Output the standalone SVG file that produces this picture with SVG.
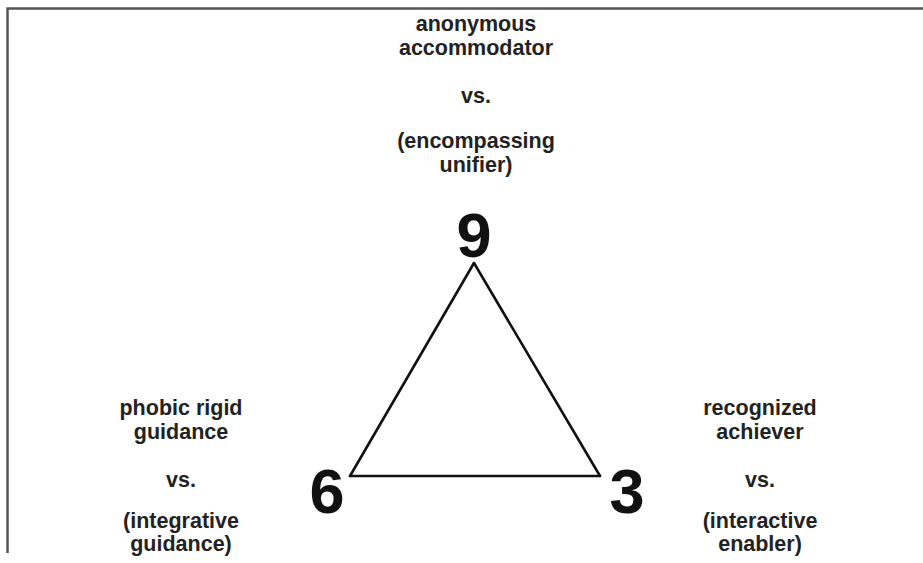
<svg xmlns="http://www.w3.org/2000/svg" width="923" height="563" viewBox="0 0 923 563">
<style>
.lbl{font-family:"Liberation Sans",Arial,sans-serif;font-weight:bold;font-size:21.5px;fill:#222;text-anchor:middle}
.num{font-family:"Liberation Sans",Arial,sans-serif;font-weight:bold;font-size:63px;fill:#111;text-anchor:middle}
.edge{stroke:#111;stroke-width:2.6;fill:none;stroke-linecap:round}
</style>
<rect width="923" height="563" fill="#fff"/>
<path d="M7.5,553 V8.5 H923" fill="none" stroke="#555" stroke-width="2.5"/>
<g id="connectors">
<line class="edge" x1="474" y1="263" x2="350" y2="476"/>
<line class="edge" x1="474" y1="263" x2="600" y2="476"/>
<line class="edge" x1="350" y1="476" x2="600" y2="476"/>
</g>
<g id="node-9">
<text class="lbl" x="476" y="31">anonymous</text>
<text class="lbl" x="476" y="55">accommodator</text>
<text class="lbl" x="476" y="103">vs.</text>
<text class="lbl" x="476" y="148">(encompassing</text>
<text class="lbl" x="476" y="172">unifier)</text>
<text class="num" x="474" y="257">9</text>
</g>
<g id="node-6">
<text class="lbl" x="181" y="415">phobic rigid</text>
<text class="lbl" x="181" y="439">guidance</text>
<text class="lbl" x="181" y="487">vs.</text>
<text class="lbl" x="181" y="528">(integrative</text>
<text class="lbl" x="181" y="551">guidance)</text>
<text class="num" x="327" y="513">6</text>
</g>
<g id="node-3">
<text class="lbl" x="760" y="415">recognized</text>
<text class="lbl" x="760" y="439">achiever</text>
<text class="lbl" x="760" y="487">vs.</text>
<text class="lbl" x="760" y="528">(interactive</text>
<text class="lbl" x="760" y="551">enabler)</text>
<text class="num" x="627" y="513">3</text>
</g>
</svg>
